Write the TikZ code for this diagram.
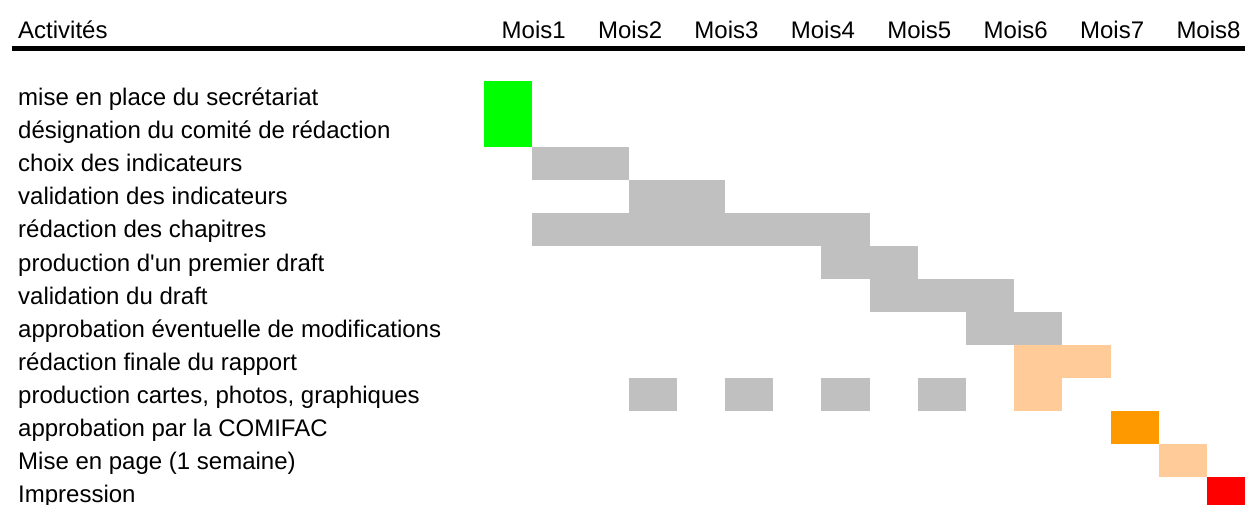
\documentclass[tikz,border=0pt]{standalone}
\usepackage{fontspec}
\setmainfont{Liberation Sans}
\definecolor{bargreen}{HTML}{00FF00}
\definecolor{bargray}{HTML}{C0C0C0}
\definecolor{barpeach}{HTML}{FFCC99}
\definecolor{barorange}{HTML}{FF9900}
\definecolor{barred}{HTML}{FF0000}
\begin{document}
\begin{tikzpicture}[x=1pt,y=-1pt,
  lbl/.style={anchor=base west,inner sep=0pt,font=\fontsize{24}{28}\selectfont},
  mois/.style={anchor=base,inner sep=0pt,font=\fontsize{24}{28}\selectfont},
  bar/.style={draw=none}]
\useasboundingbox (0,0) rectangle (1245,505);
\clip (0,0) rectangle (1245,505);
\pgfmathsetmacro{\xo}{484}
\pgfmathsetmacro{\hw}{48.2}
\pgfmathsetmacro{\yo}{81}
\pgfmathsetmacro{\rh}{33}
% header
\node[lbl] (hact) at (18,39) {Activités};
\foreach \m in {1,...,8}{
  \node[mois] (m\m) at ({\xo+\hw*(2*\m-1)+1.5},39) {Mois\m};
}
\draw[line width=4.7pt] (12,48.3) -- (1245,48.3);
% activity labels
\foreach [count=\i from 0] \t in {mise en place du secrétariat,désignation du comité de rédaction,choix des indicateurs,validation des indicateurs,rédaction des chapitres,production d\textquotesingle un premier draft,validation du draft,approbation éventuelle de modifications,rédaction finale du rapport,{production cartes, photos, graphiques},approbation par la COMIFAC,Mise en page (1 semaine),Impression}{
  \node[lbl] (a\i) at (18,{106+\rh*\i}) {\t};
}
% bars: {col start}{col end}{row start}{row end}{colour}
\newcommand{\ganttbar}[5]{\fill[#5] ({\xo+\hw*#1},{\yo+\rh*#3}) rectangle ({\xo+\hw*#2},{\yo+\rh*#4});}
\ganttbar{0}{1}{0}{2}{bargreen}
\ganttbar{1}{3}{2}{3}{bargray}
\ganttbar{3}{5}{3}{4}{bargray}
\ganttbar{1}{8}{4}{5}{bargray}
\ganttbar{7}{9}{5}{6}{bargray}
\ganttbar{8}{11}{6}{7}{bargray}
\ganttbar{10}{12}{7}{8}{bargray}
\ganttbar{11}{13}{8}{9}{barpeach}
\ganttbar{3}{4}{9}{10}{bargray}
\ganttbar{5}{6}{9}{10}{bargray}
\ganttbar{7}{8}{9}{10}{bargray}
\ganttbar{9}{10}{9}{10}{bargray}
\ganttbar{11}{12}{9}{10}{barpeach}
\ganttbar{13}{14}{10}{11}{barorange}
\ganttbar{14}{15}{11}{12}{barpeach}
\ganttbar{15}{16}{12}{13}{barred}
\end{tikzpicture}
\end{document}
